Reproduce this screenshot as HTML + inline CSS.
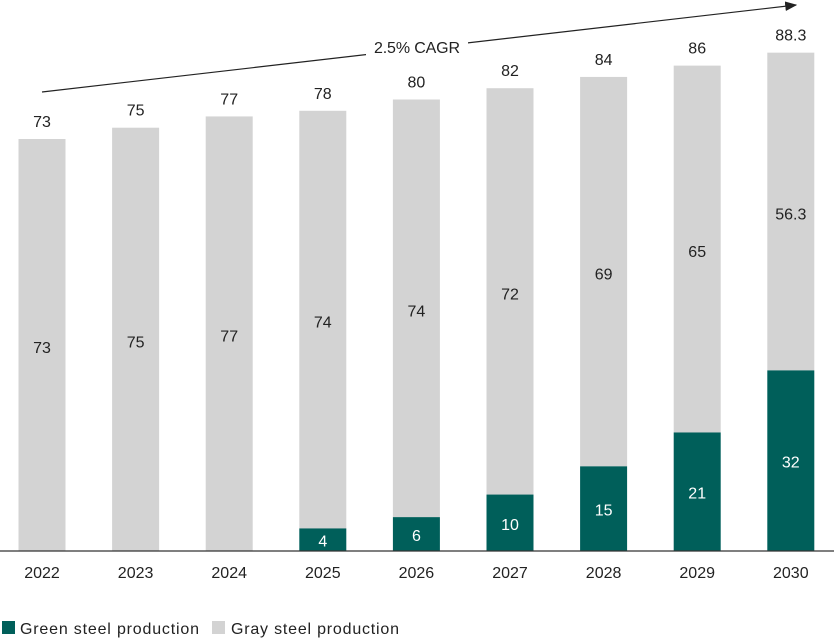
<!DOCTYPE html>
<html><head><meta charset="utf-8"><style>
body{margin:0;background:#fff;}
svg{display:block;font-family:"Liberation Sans",sans-serif;}
</style></head><body>
<svg id="chart" width="834" height="643">
<defs><marker id="ah" markerWidth="10" markerHeight="8" refX="9" refY="4" orient="auto"><path d="M0,0 L10,4 L0,8 z" fill="#222"/></marker></defs>
<g id="bars"></g>
<line x1="0" y1="551" x2="834" y2="551" stroke="#333" stroke-width="1.2"/>
<line x1="42" y1="92" x2="796" y2="5" stroke="#222" stroke-width="1.2" marker-end="url(#ah)"/>
<rect x="366" y="36" width="102" height="22" fill="#fff"/>
<text x="417" y="53" text-anchor="middle" font-size="16" textLength="86" fill="#222">2.5% CAGR</text>
<g>
<rect x="2" y="621" width="13" height="13" fill="#005f5a"/>
<text x="20" y="634" font-size="16" textLength="179" fill="#222">Green steel production</text>
<rect x="212" y="621" width="13" height="13" fill="#d3d3d3"/>
<text x="231" y="634" font-size="16" textLength="168" fill="#222">Gray steel production</text>
</g>
</svg>
<script>
const years=["2022","2023","2024","2025","2026","2027","2028","2029","2030"];
const green=[0,0,0,4,6,10,15,21,32];
const gray=[73,75,77,74,74,72,69,65,56.3];
const totals=["73","75","77","78","80","82","84","86","88.3"];
const NS="http://www.w3.org/2000/svg";
const base=551, k=412/73, x0=42, step=93.6, bw=47;
const y=v=>base-v*k, xc=i=>x0+i*step;
const g=document.getElementById('bars');
function mk(t,a,txt){const e=document.createElementNS(NS,t);for(const n in a)e.setAttribute(n,a[n]);if(txt!==undefined)e.textContent=txt;g.appendChild(e);return e;}
years.forEach((yr,i)=>{
  const cx=xc(i);
  const gt=y(green[i]), tt=y(green[i]+gray[i]);
  let r=mk('rect',{x:cx-bw/2,y:tt,width:bw,height:gt-tt,fill:'#d3d3d3'});
  
  
  let t=mk('text',{x:cx,y:(tt+gt)/2+8,'text-anchor':'middle','font-size':16,fill:'#222'},String(gray[i]));
  
  
  if(green[i]>0){
    let rg=mk('rect',{x:cx-bw/2,y:gt,width:bw,height:base-gt,fill:'#005f5a'});
    
    
    let tg=mk('text',{x:cx,y:(gt+base)/2+7,'text-anchor':'middle','font-size':16,fill:'#fff'},String(green[i]));
    
    
  }
  let tot=mk('text',{x:cx,y:tt-12,'text-anchor':'middle','font-size':16,fill:'#222'},totals[i]);
  
  
  let yl=mk('text',{x:cx,y:578,'text-anchor':'middle','font-size':16,fill:'#222'},yr);
  
  
});
</script>
</body></html>
